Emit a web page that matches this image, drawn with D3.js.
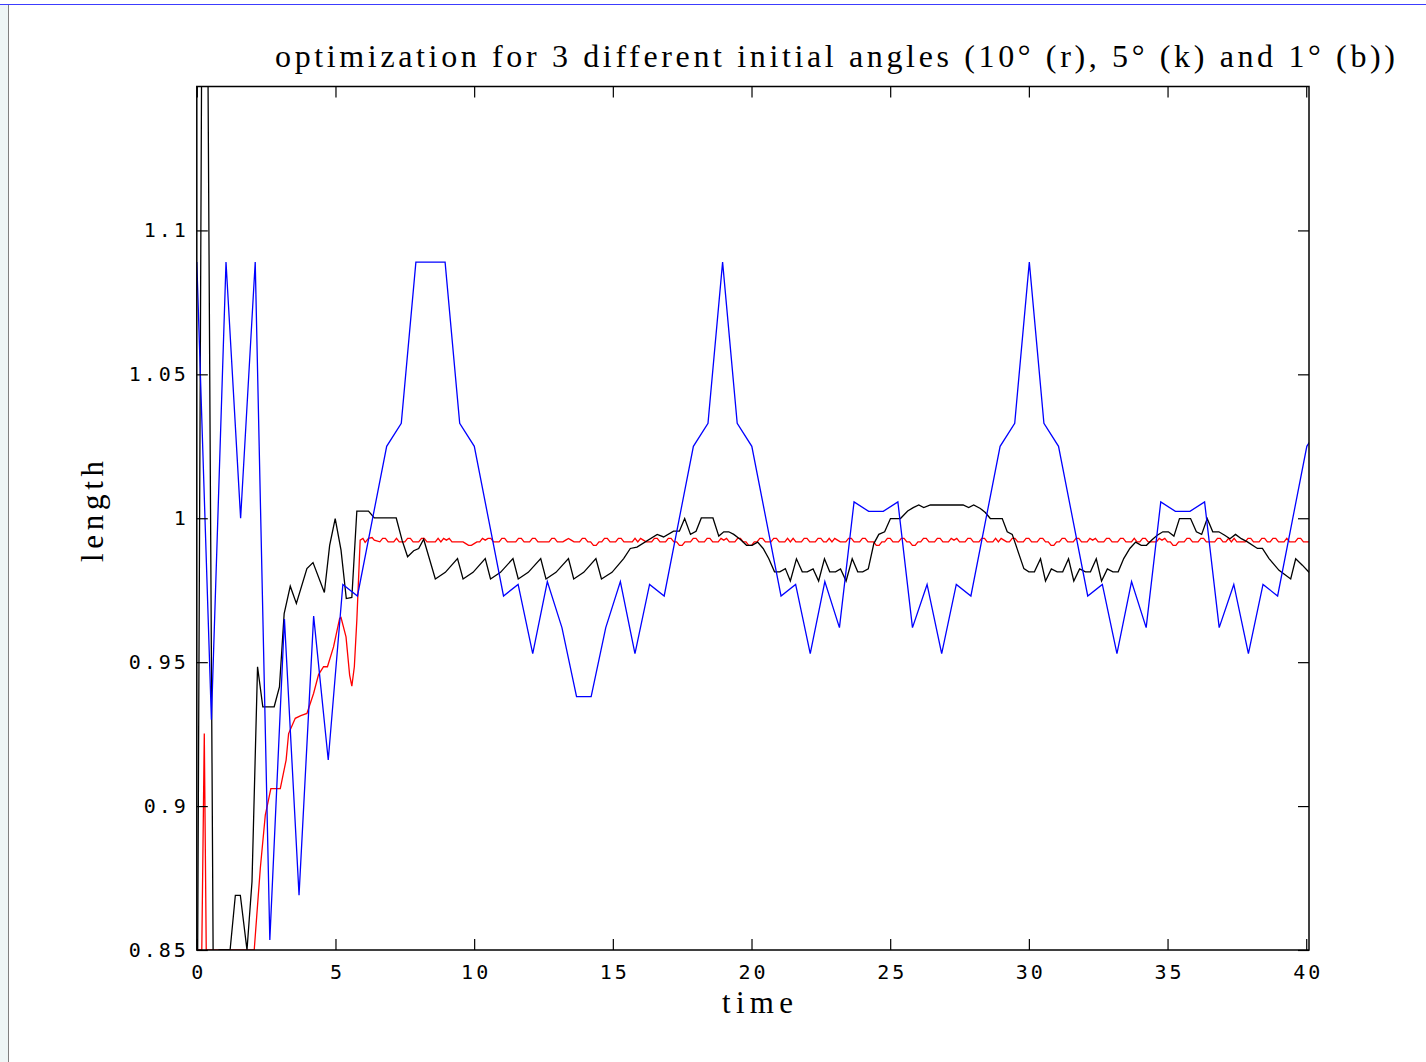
<!DOCTYPE html>
<html>
<head>
<meta charset="utf-8">
<script src="https://cdn.jsdelivr.net/npm/d3@7"></script>
<style>
  html, body { margin: 0; padding: 0; background: #ffffff; }
  svg { display: block; }
</style>
</head>
<body>
<svg id="chart" width="1426" height="1062"></svg>
<script>
// ---------------- DATA ----------------
const titleText = "optimization for 3 different initial angles (10° (r), 5° (k) and 1° (b))";
const xLabel = "time";
const yLabel = "length";

const xTicks = [0, 5, 10, 15, 20, 25, 30, 35, 40];
const xTickLabels = ["0", "5", "10", "15", "20", "25", "30", "35", "40"];
const yTicks = [0.85, 0.9, 0.95, 1.0, 1.05, 1.1];
const yTickLabels = ["0.85", "0.9", "0.95", "1", "1.05", "1.1"];

// blue (1°) : uniform time grid
const blueStart = 0;
const blueStep = 0.5266;
const blueLength = [
  1.089, 0.930, 1.089, 1.000, 1.089, 0.8535, 0.965, 0.869, 0.966, 0.916,
  0.977, 0.973, 0.999, 1.025, 1.033, 1.089, 1.089, 1.089, 1.033, 1.025,
  0.999, 0.973, 0.977, 0.953, 0.978, 0.962, 0.938, 0.938, 0.962, 0.978,
  0.953, 0.977, 0.973, 0.999, 1.025, 1.033, 1.089, 1.033, 1.025, 0.999,
  0.973, 0.977, 0.953, 0.978, 0.962, 1.0057, 1.0024, 1.0024, 1.0057, 0.962,
  0.977, 0.953, 0.977, 0.973, 0.999, 1.025, 1.033, 1.089, 1.033, 1.025,
  0.999, 0.973, 0.977, 0.953, 0.978, 0.962, 1.0057, 1.0024, 1.0024, 1.0057,
  0.962, 0.977, 0.953, 0.977, 0.973, 0.999, 1.025, 1.033
];

// black (5°) : read vertices
const blackTime = [
  0, 0.2, 0.4, 0.6, 0.8, 1.2, 1.39, 1.57, 1.81, 1.99,
  2.19, 2.38, 2.79, 2.98, 3.15, 3.37, 3.59, 3.97, 4.19, 4.60,
  4.79, 4.99, 5.20, 5.39, 5.59, 5.77, 6.19, 6.40, 7.19, 7.40,
  7.60, 7.82, 8.00, 8.18, 8.60, 8.96, 9.40, 9.60, 9.96, 10.40,
  10.59, 10.95, 11.40, 11.59, 11.95, 12.40, 12.59, 12.95, 13.40, 13.59,
  13.95, 14.39, 14.59, 14.97, 15.39, 15.63, 15.87, 16.60, 16.83, 17.19,
  17.40, 17.59, 17.80, 18.00, 18.19, 18.61, 18.82, 19.00, 19.18, 19.36,
  19.60, 19.82, 20.02, 20.22, 20.42, 20.62, 20.83, 21.02, 21.22, 21.40,
  21.62, 21.83, 22.01, 22.22, 22.42, 22.63, 22.82, 23.03, 23.21, 23.41,
  23.63, 23.83, 24.01, 24.21, 24.41, 24.59, 24.80, 25.01, 25.37, 25.63,
  25.83, 26.03, 26.21, 26.45, 27.63, 27.83, 28.01, 28.25, 28.43, 28.61,
  29.04, 29.22, 29.40, 29.82, 30.00, 30.20, 30.42, 30.60, 30.81, 31.02,
  31.22, 31.43, 31.62, 31.83, 32.04, 32.22, 32.43, 32.62, 32.83, 33.03,
  33.22, 33.42, 33.64, 33.85, 34.05, 34.24, 34.45, 34.63, 34.83, 35.03,
  35.23, 35.43, 35.83, 36.04, 36.23, 36.43, 36.63, 36.85, 37.06, 37.25,
  37.45, 37.66, 37.88, 38.24, 38.42, 38.66, 39.02, 39.44, 39.62, 39.86,
  40.16
];
const blackLength = [
  0.78, 1.215, 1.16, 0.83, 0.85, 0.85, 0.869, 0.869, 0.85, 0.8737,
  0.9484, 0.9345, 0.9345, 0.9414, 0.9669, 0.9764, 0.9704, 0.9825, 0.9846, 0.9742,
  0.9906, 0.9999, 0.9889, 0.9721, 0.9725, 1.0025, 1.0025, 1.0001, 1.0001, 0.9924,
  0.9866, 0.9887, 0.9895, 0.9927, 0.9789, 0.9812, 0.986, 0.9789, 0.9812, 0.986,
  0.9789, 0.9812, 0.986, 0.9789, 0.9812, 0.986, 0.9789, 0.9812, 0.986, 0.9789,
  0.9812, 0.986, 0.9789, 0.9812, 0.986, 0.9895, 0.99, 0.9944, 0.9935, 0.9955,
  0.9955, 0.9999, 0.9944, 0.9955, 1.0001, 1.0001, 0.9938, 0.9953, 0.9953, 0.9944,
  0.9926, 0.9906, 0.9906, 0.9917, 0.9895, 0.986, 0.9814, 0.9814, 0.9825, 0.9782,
  0.9859, 0.9814, 0.9814, 0.9824, 0.9782, 0.9859, 0.9814, 0.9814, 0.9824, 0.9782,
  0.9859, 0.9814, 0.9814, 0.9824, 0.9912, 0.9944, 0.9953, 0.9999, 0.9999, 1.0025,
  1.0037, 1.0046, 1.0037, 1.0046, 1.0046, 1.0037, 1.0046, 1.0034, 1.002, 0.9999,
  0.9999, 0.9953, 0.9944, 0.9825, 0.9814, 0.9814, 0.9859, 0.9782, 0.9824, 0.9814,
  0.9814, 0.9859, 0.9782, 0.9824, 0.9814, 0.9814, 0.9859, 0.9782, 0.9824, 0.9814,
  0.9814, 0.986, 0.9895, 0.9917, 0.9906, 0.9906, 0.9926, 0.9941, 0.9953, 0.9953,
  0.9938, 0.9999, 0.9999, 0.9953, 0.9944, 0.9999, 0.9953, 0.9953, 0.9941, 0.9929,
  0.9944, 0.9929, 0.9918, 0.9895, 0.9895, 0.986, 0.9819, 0.9789, 0.9859, 0.9837,
  0.9806
];

// red (10°) : read start, then uniform grid
const redHeadTime = [
  0, 0.18, 0.27, 0.34, 2.07, 2.29, 2.47, 2.67, 3.01, 3.22,
  3.31, 3.55, 3.75, 3.97, 4.21, 4.39, 4.57, 4.71, 4.93, 5.15,
  5.20, 5.38, 5.51, 5.59, 5.68, 5.77, 5.89, 5.99, 6.07, 6.19,
  6.32, 6.40
];
const redHeadLength = [
  0.85, 0.85, 0.9252, 0.85, 0.85, 0.8784, 0.8969, 0.9061, 0.9061, 0.916,
  0.9252, 0.9305, 0.9314, 0.9322, 0.9391, 0.9457, 0.9484, 0.9484, 0.9553, 0.9652,
  0.9655, 0.9588, 0.9455, 0.9417, 0.9484, 0.9646, 0.9924, 0.993, 0.9916, 0.993,
  0.9933, 0.9924
];
const redTailStart = 6.6;
const redTailStep = 0.1;
const redTailLength = [
  0.9918,0.993,0.993,0.9918,0.9918,0.9918,0.993,0.9918,0.9918,0.9918,
  0.993,0.993,0.9918,0.9918,0.9918,0.993,0.993,0.9918,0.9918,0.9918,
  0.9918,0.993,0.9918,0.993,0.9924,0.993,0.9918,0.9918,0.9918,0.9918,
  0.9918,0.9912,0.9906,0.9906,0.9912,0.9918,0.9918,0.993,0.9924,0.993,
  0.993,0.9918,0.9918,0.9918,0.993,0.993,0.9918,0.9918,0.9918,0.9918,
  0.993,0.993,0.9918,0.9918,0.9918,0.993,0.993,0.9918,0.9918,0.9918,
  0.9918,0.9918,0.993,0.993,0.9918,0.9918,0.9918,0.9924,0.993,0.9924,
  0.9918,0.9918,0.9918,0.993,0.993,0.9918,0.9918,0.9906,0.9906,0.9918,
  0.9918,0.993,0.993,0.9918,0.9918,0.9918,0.993,0.993,0.9918,0.9918,
  0.9918,0.9918,0.993,0.9918,0.993,0.9924,0.9918,0.9918,0.9918,0.993,
  0.993,0.9918,0.9918,0.9918,0.993,0.993,0.9918,0.9918,0.9906,0.9906,
  0.9918,0.9918,0.9918,0.993,0.993,0.9918,0.9918,0.9918,0.993,0.993,
  0.9918,0.9918,0.9918,0.993,0.9924,0.993,0.9918,0.9918,0.9918,0.993,
  0.993,0.9918,0.9918,0.9906,0.9906,0.9918,0.9918,0.993,0.993,0.9918,
  0.9918,0.9918,0.993,0.993,0.9918,0.9918,0.9918,0.993,0.9918,0.993,
  0.9918,0.9918,0.9918,0.993,0.993,0.9918,0.9918,0.9918,0.993,0.993,
  0.9918,0.9918,0.993,0.9918,0.993,0.9924,0.9918,0.9918,0.9918,0.993,
  0.993,0.9918,0.9918,0.9918,0.993,0.993,0.9918,0.9918,0.9918,0.9906,
  0.9906,0.9918,0.9918,0.993,0.993,0.9918,0.9918,0.9918,0.993,0.993,
  0.9918,0.9918,0.9906,0.9906,0.9918,0.9918,0.993,0.993,0.9918,0.9918,
  0.9918,0.993,0.993,0.9918,0.9918,0.9918,0.993,0.9924,0.993,0.9918,
  0.9918,0.9918,0.993,0.993,0.9918,0.9918,0.9918,0.993,0.993,0.9918,
  0.9918,0.9918,0.993,0.9918,0.993,0.9924,0.9918,0.9918,0.993,0.993,
  0.9918,0.9918,0.9918,0.993,0.993,0.9918,0.9918,0.9918,0.993,0.993,
  0.9918,0.9918,0.9906,0.9906,0.9918,0.9918,0.993,0.993,0.9918,0.9918,
  0.9918,0.993,0.993,0.9918,0.9918,0.9918,0.993,0.9924,0.993,0.9918,
  0.9918,0.9918,0.993,0.993,0.9918,0.9918,0.9918,0.993,0.993,0.9918,
  0.9918,0.9918,0.993,0.9918,0.9918,0.993,0.993,0.9918,0.9918,0.9918,
  0.9918,0.993,0.9924,0.993,0.9918,0.9918,0.9906,0.9906,0.9918,0.9918,
  0.9918,0.993,0.993,0.9918,0.9918,0.9918,0.993,0.993,0.9918,0.9918,
  0.9918,0.9918,0.993,0.993,0.9918,0.9918,0.993,0.9918,0.993,0.9918,
  0.9918,0.9918,0.9918,0.993,0.993,0.9918,0.9918,0.9918,0.993,0.993,
  0.9918,0.9918,0.993,0.993,0.9918,0.9918,0.9918,0.993,0.9918,0.9918,
  0.9918,0.993,0.993,0.9918,0.9918,0.9918,0.993,0.9924,0.993,0.9918
];

// ---------------- BUILD ----------------
(function () {
const blueData = blueLength.map((v, i) => ({ t: blueStart + i * blueStep, v }));
const blackData = blackTime.map((t, i) => ({ t, v: blackLength[i] }));
const redData = redHeadTime.map((t, i) => ({ t, v: redHeadLength[i] }))
  .concat(redTailLength.map((v, i) => ({ t: redTailStart + i * redTailStep, v })));

const svg = d3.select("#chart");

// page frame decorations
svg.append("rect").attr("x", 0).attr("y", 0).attr("width", 1426).attr("height", 1062).attr("fill", "#ffffff");
svg.append("rect").attr("x", 0).attr("y", 5).attr("width", 8).attr("height", 1057).attr("fill", "#eef6f6");
svg.append("line").attr("x1", 8.5).attr("x2", 8.5).attr("y1", 5).attr("y2", 1062).attr("stroke", "#808080").attr("stroke-width", 1);
svg.append("line").attr("x1", 0).attr("x2", 1426).attr("y1", 4.5).attr("y2", 4.5).attr("stroke", "#3c3cff").attr("stroke-width", 1.2);

const pLeft = 196.8, pRight = 1309, pTop = 86.5, pBottom = 950;
const x = d3.scaleLinear().domain([0, 40.1]).range([pLeft, pRight]);
const y = d3.scaleLinear().domain([0.85, 1.15]).range([pBottom, pTop]);

svg.append("defs").append("clipPath").attr("id", "plotclip")
  .append("rect").attr("x", pLeft).attr("y", pTop).attr("width", pRight - pLeft).attr("height", pBottom - pTop);

const line = d3.line().x(d => x(d.t)).y(d => y(d.v));

const plot = svg.append("g").attr("clip-path", "url(#plotclip)");
plot.append("path").datum(redData).attr("d", line)
  .attr("fill", "none").attr("stroke", "#ff0000").attr("stroke-width", 1.3);
plot.append("path").datum(blackData).attr("d", line)
  .attr("fill", "none").attr("stroke", "#000000").attr("stroke-width", 1.3);
plot.append("path").datum(blueData).attr("d", line)
  .attr("fill", "none").attr("stroke", "#0000ff").attr("stroke-width", 1.3);

// axes (inward ticks on all four sides)
const tickFont = "'DejaVu Sans Mono', monospace";
const xAxis = d3.axisBottom(x).tickValues(xTicks).tickFormat((d, i) => xTickLabels[i])
  .tickSizeInner(-11).tickSizeOuter(0).tickPadding(15);
const yAxis = d3.axisLeft(y).tickValues(yTicks).tickFormat((d, i) => yTickLabels[i])
  .tickSizeInner(-11).tickSizeOuter(0).tickPadding(8);
const xAxisTop = d3.axisTop(x).tickValues(xTicks).tickFormat("").tickSizeInner(-11).tickSizeOuter(0);
const yAxisRight = d3.axisRight(y).tickValues(yTicks).tickFormat("").tickSizeInner(-11).tickSizeOuter(0);

function styleAxis(g) {
  g.select(".domain").remove();
  g.selectAll(".tick line").attr("stroke", "#000").attr("stroke-width", 1.2);
  g.selectAll(".tick text").attr("fill", "#000")
    .style("font-family", tickFont).style("font-size", "20px").style("letter-spacing", "3px");
}

svg.append("g").attr("transform", `translate(0,${pBottom})`).call(xAxis).call(styleAxis)
  .selectAll(".tick text").attr("dx", "1.5px");
svg.append("g").attr("transform", `translate(${pLeft},0)`).call(yAxis).call(styleAxis);
svg.append("g").attr("transform", `translate(0,${pTop})`).call(xAxisTop).call(styleAxis);
svg.append("g").attr("transform", `translate(${pRight},0)`).call(yAxisRight).call(styleAxis);

// box
svg.append("rect").attr("x", pLeft).attr("y", pTop).attr("width", pRight - pLeft).attr("height", pBottom - pTop)
  .attr("fill", "none").attr("stroke", "#000").attr("stroke-width", 1.5);

// title & labels
const serif = "'Liberation Serif', 'DejaVu Serif', serif";
svg.append("text").attr("x", 275).attr("y", 67).text(titleText)
  .attr("textLength", 1120).attr("lengthAdjust", "spacing")
  .style("font-family", serif).style("font-size", "32px").attr("fill", "#000");

svg.append("text").attr("x", 722).attr("y", 1013).text(xLabel)
  .attr("textLength", 71).attr("lengthAdjust", "spacing")
  .style("font-family", serif).style("font-size", "31px").attr("fill", "#000");

svg.append("text").attr("transform", "translate(103,562) rotate(-90)").text(yLabel)
  .attr("textLength", 101).attr("lengthAdjust", "spacing")
  .style("font-family", serif).style("font-size", "31px").attr("fill", "#000");
})();
</script>
</body>
</html>
